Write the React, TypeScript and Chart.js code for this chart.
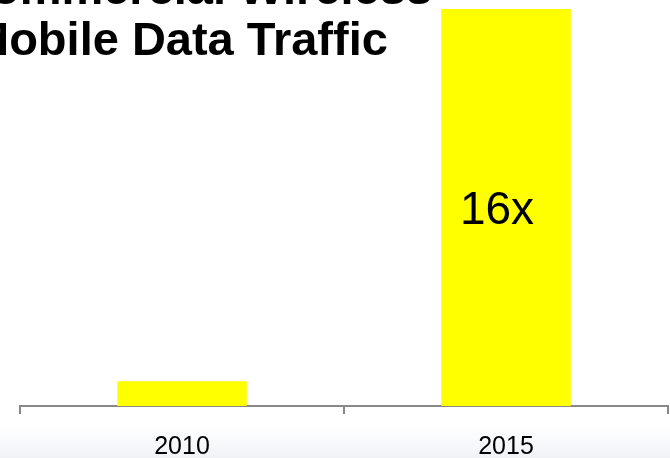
import React, { useEffect, useRef } from "react";
import { Chart, registerables } from "chart.js";

Chart.register(...registerables);

const categories = ["2010", "2015"];
const trafficValues = [1, 16];
const titleLines = ["Commercial Wireless", "Mobile Data Traffic"];
const barAnnotations = ["", "16x"];
const yMax = 16;

export default function App() {
  const ref = useRef<HTMLCanvasElement | null>(null);

  useEffect(() => {
    document.body.style.margin = "0";
    const canvas = ref.current;
    if (!canvas) return;

    const titlePlugin = {
      id: "slideTitle",
      afterDraw(chart: any) {
        const ctx = chart.ctx;
        ctx.save();
        ctx.fillStyle = "#000";
        ctx.font = "bold 47px 'Liberation Sans', Arial, sans-serif";
        ctx.textAlign = "left";
        ctx.textBaseline = "alphabetic";
        ctx.fillText(titleLines[0], -43, 4);
        ctx.fillText(titleLines[1], -30, 55);
        ctx.restore();
      },
    };

    const annotPlugin = {
      id: "barAnnot",
      afterDatasetsDraw(chart: any) {
        const ctx = chart.ctx;
        const meta = chart.getDatasetMeta(0);
        ctx.save();
        ctx.fillStyle = "#000";
        ctx.font = "46px 'Liberation Sans', Arial, sans-serif";
        ctx.textAlign = "center";
        ctx.textBaseline = "middle";
        meta.data.forEach((el: any, i: number) => {
          const t = barAnnotations[i];
          if (!t) return;
          ctx.fillText(t, el.x - 9, (el.y + el.base) / 2 + 4);
        });
        ctx.restore();
      },
    };

    const chart = new Chart(canvas, {
      type: "bar",
      data: {
        labels: categories,
        datasets: [
          {
            data: trafficValues,
            backgroundColor: "#ffff00",
            borderWidth: 0,
            barPercentage: 0.4,
            categoryPercentage: 1,
          },
        ],
      },
      options: {
        responsive: false,
        animation: false,
        devicePixelRatio: 1,
        layout: { padding: { left: 20, right: 2, top: 9, bottom: 0 } },
        plugins: {
          legend: { display: false },
          tooltip: { enabled: false },
          title: { display: false },
        },
        scales: {
          y: { display: false, min: 0, max: yMax },
          x: {
            offset: true,
            grid: {
              offset: true,
              drawOnChartArea: false,
              drawTicks: true,
              tickLength: 8,
              color: "#888",
              lineWidth: 2,
            },
            border: { display: true, color: "#888", width: 2 },
            ticks: {
              color: "#000",
              padding: 18,
              font: { size: 25, family: "'Liberation Sans', Arial, sans-serif" },
            },
          },
        },
      },
      plugins: [titlePlugin, annotPlugin],
    });

    return () => chart.destroy();
  }, []);

  return (
    <div
      style={{
        position: "relative",
        width: 670,
        height: 458,
        overflow: "hidden",
        background:
          "linear-gradient(to bottom, #ffffff 0px, #ffffff 428px, #f0f2f6 458px)",
      }}
    >
      <canvas ref={ref} width={670} height={480} style={{ display: "block" }} />
    </div>
  );
}
